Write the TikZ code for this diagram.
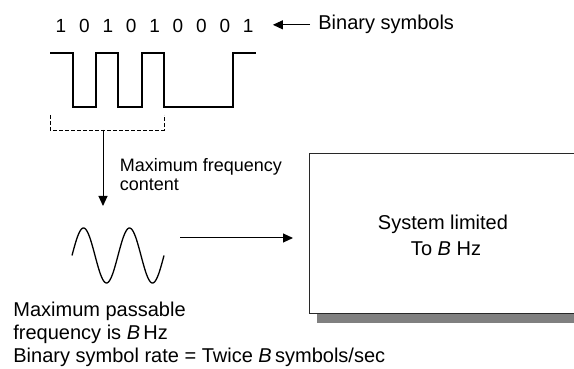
\documentclass[tikz,border=0pt]{standalone}
\usepackage{fontspec}
\setmainfont{Liberation Sans}
\usetikzlibrary{arrows.meta}
\definecolor{shadowgray}{RGB}{128,128,128}
\definecolor{boxline}{RGB}{40,40,40}
\begin{document}
\begin{tikzpicture}[x=0.5pt,y=-0.5pt,
  txt/.style={font=\fontsize{10}{12}\selectfont, inner sep=0pt},
  smalltxt/.style={font=\fontsize{9}{10}\selectfont, inner sep=0pt},
  digit/.style={font=\fontsize{9.5}{11}\selectfont, inner sep=0pt, anchor=base},
  arr/.style={-{Triangle[length=5pt,width=4.5pt]}, line width=0.5pt},
  wave/.style={line width=0.55pt},
  sinewave/.style={line width=0.65pt},
  bracket/.style={line width=0.45pt, dash pattern=on 2pt off 1pt},
]
\useasboundingbox (0,0) rectangle (574,369);
\clip (0,0) rectangle (574,369);

% binary symbols
\foreach \b [count=\i] in {1,0,1,0,1,0,0,0,1}
  \node[digit] (d\i) at ({61+23.4*(\i-1)},32.5) {\b};
\node[txt, anchor=base west] (bs) at (318,30) {Binary symbols};
\draw[arr] ([xshift=-4pt]bs.west) -- ([xshift=9.5pt]d9.east |- bs.west);

% waveform
\draw[wave] (50,53) -- (73,53) -- (73,107) -- (96,107) -- (96,53) -- (118,53)
  -- (118,107) -- (142,107) -- (142,53) -- (164,53) -- (164,107) -- (233,107)
  -- (233,53) -- (256,53);

% dashed bracket
\draw[bracket] (50,115) -- (50,130) -- (164,130) -- (164,115);
\coordinate (br) at (103,130);
\coordinate (wt) at (103,206);
\draw[arr] (br) -- (wt);
\node[smalltxt, anchor=base west] (mf1) at (119.5,171.7) {Maximum frequency};
\node[smalltxt, anchor=base west] (mf2) at (119.5,191) {content};

% sine
\draw[sinewave] plot[domain=0:92, samples=100, smooth] ({72+\x},{255.5-27.5*sin(7.8261*\x)});
\coordinate (hs) at (180,238);

% system box
\fill[shadowgray] (317,313) rectangle (600,323);
\node[draw=boxline, fill=white, line width=0.5pt, inner sep=0pt,
  minimum width=145.5pt, minimum height=80pt, anchor=north west] (sys) at (309,153) {};
\draw[arr] (hs) -- ([xshift=-8pt]sys.west |- hs);
\node[txt, anchor=base] (s1) at (443,229.3) {System limited};
\node[txt, anchor=base] (s2) at (446,256) {To \textit{B} Hz};

% bottom text
\node[txt, anchor=base west] (m1) at (13,316.7) {Maximum passable};
\node[txt, anchor=base west] (m2) at (13,340) {frequency is \textit{B}\,Hz};
\node[txt, anchor=base west] (m3) at (13,363) {Binary symbol rate = Twice \textit{B}\,symbols/sec};
\end{tikzpicture}
\end{document}
